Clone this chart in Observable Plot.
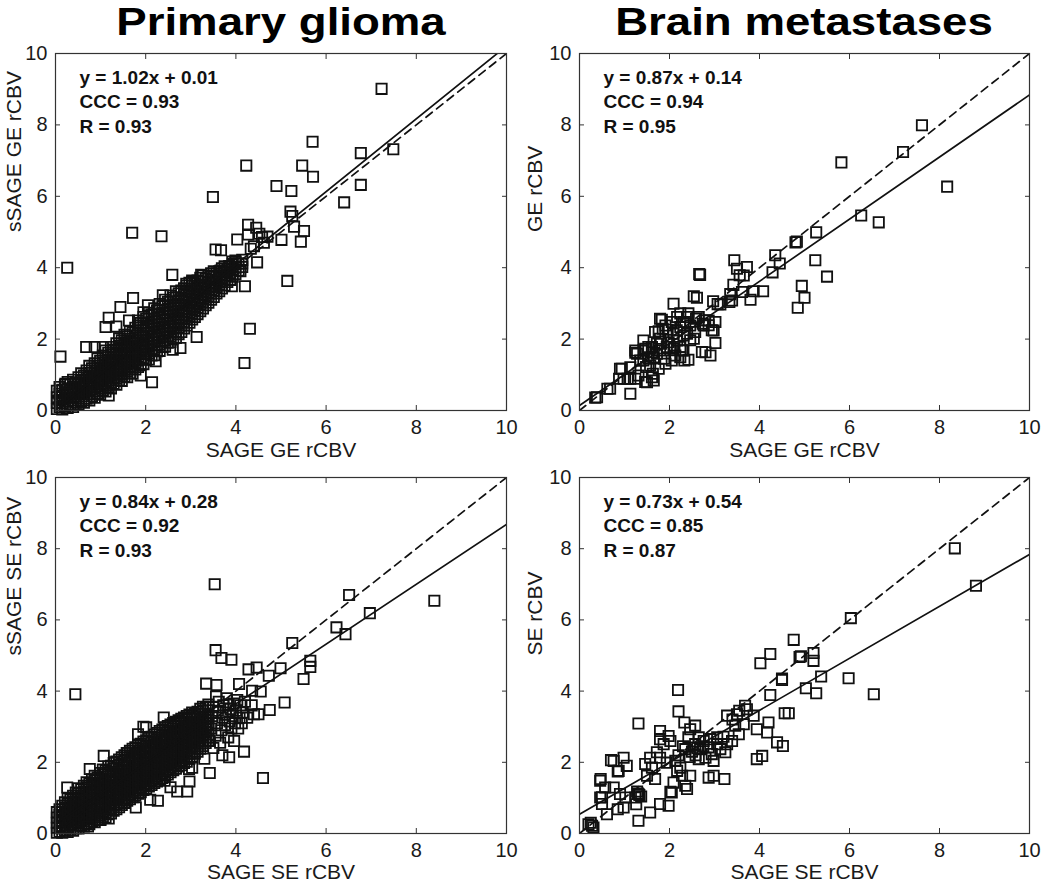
<!DOCTYPE html>
<html><head><meta charset="utf-8">
<script src="https://cdn.jsdelivr.net/npm/d3@7"></script>
<script src="https://cdn.jsdelivr.net/npm/@observablehq/plot@0.6"></script>
<style>
body{margin:0;background:#fff;}
#root{position:relative;width:1050px;height:883px;background:#fff;overflow:hidden;font-family:'Liberation Sans',Arial,Helvetica,sans-serif;}
.cell{position:absolute;}
.cell svg{display:block;max-width:none;}
.title{position:absolute;top:3px;font-weight:bold;font-size:38px;line-height:38px;color:#000;white-space:nowrap;transform:translateX(-50%) scaleX(1.2);}
</style></head><body><div id="root"></div>
<script>
// ---------- data ----------
const ticks = [0, 2, 4, 6, 8, 10];
const titles = ["Primary glioma", "Brain metastases"];
const xLabels = ["SAGE GE rCBV", "SAGE GE rCBV", "SAGE SE rCBV", "SAGE SE rCBV"];
const yLabels = ["sSAGE GE rCBV", "GE rCBV", "sSAGE SE rCBV", "SE rCBV"];
const slopes = [1.02, 0.87, 0.84, 0.73];
const intercepts = [0.01, 0.14, 0.28, 0.54];
const cccs = ["0.93", "0.94", "0.92", "0.85"];
const rs = ["0.93", "0.95", "0.93", "0.87"];

// Primary glioma, GE: dense core (x, [y...]) and scattered points
const gliomaGECore = [
[0.03,[0.04,0.21,0.37,0.55]],[0.09,[0.1,0.29,0.47,0.66]],[0.15,[0.03,0.2,0.41,0.58]],[0.21,[0.12,0.33,0.5,0.72]],
[0.27,[0.07,0.25,0.44,0.62,0.8]],[0.33,[0.16,0.36,0.55,0.74]],[0.39,[0.1,0.28,0.47,0.66,0.86]],[0.45,[0.22,0.4,0.6,0.79]],
[0.51,[0.17,0.34,0.53,0.72,0.93]],[0.57,[0.27,0.47,0.66,0.85,1.04]],[0.63,[0.22,0.4,0.6,0.79,0.98]],[0.69,[0.33,0.53,0.72,0.91,1.12]],
[0.75,[0.28,0.46,0.66,0.85,1.05,1.25]],[0.81,[0.4,0.6,0.79,0.98,1.18]],[0.87,[0.36,0.54,0.73,0.92,1.11,1.32]],[0.93,[0.48,0.67,0.86,1.05,1.25,1.46]],
[0.99,[0.44,0.62,0.81,1.0,1.19,1.39]],[1.05,[0.57,0.76,0.95,1.14,1.33,1.54]],[1.11,[0.53,0.71,0.9,1.09,1.28,1.48,1.68]],[1.17,[0.66,0.85,1.04,1.23,1.42,1.62]],
[1.23,[0.62,0.8,0.99,1.18,1.37,1.57,1.78]],[1.29,[0.75,0.94,1.13,1.32,1.51,1.71]],[1.35,[0.72,0.9,1.09,1.28,1.47,1.67,1.88]],[1.41,[0.85,1.04,1.23,1.42,1.61,1.81,2.02]],
[1.47,[0.83,1.0,1.19,1.38,1.57,1.77,1.97]],[1.53,[0.95,1.14,1.33,1.52,1.71,1.91,2.12]],[1.59,[0.93,1.1,1.29,1.48,1.67,1.87,2.08]],[1.65,[1.05,1.24,1.43,1.62,1.81,2.01,2.22]],
[1.71,[1.03,1.2,1.39,1.58,1.77,1.97,2.18]],[1.77,[1.15,1.34,1.53,1.72,1.91,2.11,2.32]],[1.83,[1.22,1.4,1.59,1.78,1.97,2.17,2.38,2.52]],[1.89,[1.3,1.48,1.67,1.86,2.05,2.25,2.45]],
[1.95,[1.3,1.47,1.66,1.85,2.04,2.24,2.44,2.62]],[2.01,[1.42,1.6,1.79,1.98,2.17,2.37,2.57]],[2.07,[1.43,1.6,1.79,1.98,2.17,2.37,2.57,2.74]],[2.13,[1.54,1.72,1.91,2.1,2.29,2.49,2.69]],
[2.19,[1.55,1.72,1.91,2.1,2.29,2.49,2.69,2.86]],[2.25,[1.66,1.84,2.03,2.22,2.41,2.61,2.8]],[2.31,[1.67,1.84,2.03,2.22,2.41,2.61,2.81,2.98]],[2.37,[1.78,1.96,2.15,2.34,2.53,2.73,2.92]],
[2.43,[1.79,1.96,2.15,2.34,2.53,2.73,2.93,3.1]],[2.49,[1.9,2.08,2.27,2.46,2.65,2.85,3.04]],[2.55,[1.91,2.08,2.27,2.46,2.65,2.85,3.05,3.22]],[2.61,[2.02,2.2,2.39,2.58,2.77,2.97,3.16]],
[2.67,[2.03,2.2,2.39,2.58,2.77,2.97,3.17,3.34]],[2.73,[2.14,2.32,2.51,2.7,2.89,3.09,3.28]],[2.79,[2.2,2.38,2.57,2.76,2.95,3.15,3.36]],[2.85,[2.3,2.48,2.67,2.86,3.05,3.25,3.42]],
[2.91,[2.38,2.56,2.75,2.94,3.13,3.33,3.5]],[2.97,[2.46,2.64,2.83,3.02,3.21,3.41,3.58]],[3.03,[2.55,2.72,2.91,3.1,3.29,3.49,3.64]],[3.09,[2.62,2.8,2.99,3.18,3.37,3.56]],
[3.15,[2.7,2.88,3.07,3.26,3.45,3.64]],[3.21,[2.78,2.96,3.15,3.34,3.53,3.72]],[3.27,[2.86,3.04,3.23,3.42,3.61,3.78]],[3.33,[2.95,3.12,3.31,3.5,3.69]],
[3.39,[3.02,3.2,3.39,3.58,3.77]],[3.45,[3.1,3.28,3.47,3.66,3.84]],[3.51,[3.18,3.36,3.55,3.74,3.9]],[3.57,[3.28,3.46,3.65,3.84]],
[3.63,[3.34,3.52,3.71,3.9]],[3.69,[3.42,3.6,3.79,3.98]],[3.75,[3.5,3.68,3.87,4.04]],[3.81,[3.6,3.78,3.97]],
[3.87,[3.66,3.85,4.03]],[3.93,[3.75,3.94,4.1]],[3.99,[3.82,4.0,4.16]],[4.06,[3.92,4.12]],[4.14,[4.02,4.22]]
];
const gliomaGEScatter = [
[7.23,9.01],[5.70,7.53],[6.77,7.21],[7.49,7.32],[4.23,6.86],[5.47,6.86],[5.71,6.55],[6.77,6.32],[4.90,6.29],[5.23,6.15],
[6.40,5.83],[3.49,5.98],[5.21,5.57],[5.25,5.45],[5.29,5.15],[5.51,5.03],[1.70,4.98],[2.35,4.88],[3.55,4.51],[3.67,4.49],
[4.03,4.79],[4.27,5.20],[4.27,4.93],[4.33,4.53],[4.45,5.12],[4.52,4.95],[4.58,4.86],[4.70,4.87],[5.01,4.78],[5.44,4.73],
[4.47,4.15],[4.20,3.48],[4.14,4.12],[3.92,4.17],[3.99,4.2],[3.66,3.92],[5.14,3.63],[4.31,2.29],[4.19,1.33],[0.26,4.0],
[0.11,1.51],[0.68,1.78],[0.87,1.78],[1.05,1.78],[1.18,2.6],[1.11,2.34],[1.44,2.9],[1.63,2.52],[1.72,3.15],[2.59,3.80],
[3.23,3.80],[2.38,3.23],[3.13,2.06],[2.77,1.75],[2.22,1.38],[2.14,0.79],[1.89,0.98],[1.18,0.42],[0.22,0.75],[3.03,3.6],
[3.91,3.48],[4.1,3.9],[3.85,4.05],[4.4,4.6],[4.62,4.7],[2.9,3.55],[1.95,2.75],[2.05,2.95],[1.35,2.35],[2.6,1.7]
];

// Brain metastases, GE
const brainGEScatter = [
[0.39,0.37],[0.35,0.36],[0.68,0.61],[0.62,0.61],[0.98,0.89],[1.13,0.89],[0.94,1.17],[1.13,1.21],[1.31,0.98],[1.50,0.79],
[1.61,0.93],[1.13,0.47],[0.90,1.17],[0.88,0.89],[1.24,1.62],[1.28,1.59],[1.24,1.68],[1.42,1.40],[1.46,1.73],[1.61,1.63],
[1.79,1.68],[1.57,1.26],[1.76,1.17],[1.91,1.31],[1.65,1.49],[2.05,1.40],[2.24,1.49],[2.42,1.42],[2.33,1.40],[1.46,0.80],
[1.65,0.84],[1.48,1.22],[1.53,1.45],[1.35,1.40],[1.63,1.03],[1.79,2.01],[1.94,1.78],[2.09,1.73],[1.72,1.87],[2.24,1.78],
[2.31,1.68],[1.42,1.96],[1.53,1.78],[1.91,2.38],[2.05,2.48],[2.31,2.48],[2.76,2.38],[1.76,2.22],[1.96,2.26],[2.09,2.15],
[2.24,2.34],[2.46,2.38],[2.57,2.20],[2.31,2.10],[2.17,1.96],[1.98,1.91],[2.54,2.01],[1.83,2.54],[2.17,2.62],[2.39,2.62],
[2.65,2.62],[2.87,2.52],[3.02,2.48],[2.98,2.24],[3.02,1.89],[2.80,1.63],[2.91,1.54],[2.72,1.64],[2.09,2.99],[2.61,3.16],
[2.54,3.20],[2.97,3.06],[3.07,2.98],[3.13,2.97],[2.68,3.80],[2.66,3.82],[2.59,2.57],[2.74,2.43],[2.79,2.53],[2.87,2.39],
[2.94,2.25],[2.35,2.48],[2.39,2.15],[2.46,1.97],[2.16,2.25],[2.11,1.78],[2.13,1.54],[2.28,1.69],[1.88,1.45],[1.81,1.87],
[1.85,2.29],[2.24,2.72],[2.42,2.72],[1.68,2.20],[1.79,2.57],[1.72,1.59],[1.61,1.78],[1.42,1.69],[1.24,0.89],[1.07,0.89],
[3.39,3.08],[3.42,3.52],[3.61,3.32],[3.87,3.34],[4.08,3.34],[3.80,3.10],[3.44,4.21],[3.50,3.97],[3.72,4.02],[3.65,3.78],
[3.35,3.26],[3.33,3.04],[3.56,3.79],[4.35,4.35],[4.45,4.12],[4.29,3.87],[4.80,4.71],[4.83,4.73],[5.26,4.99],[5.24,4.21],
[5.50,3.75],[4.94,3.49],[5.00,3.16],[4.85,2.88],[5.82,6.95],[6.26,5.46],[6.65,5.27],[7.19,7.24],[7.61,7.99],[8.17,6.27]
];

// Primary glioma, SE: dense core (x, [y...]) and scattered points
const gliomaSECore = [
[0.03,[0.02,0.16,0.3,0.45,0.6]],[0.09,[0.05,0.2,0.36,0.52,0.68]],[0.15,[0.02,0.14,0.3,0.46,0.62,0.78]],[0.21,[0.08,0.24,0.4,0.56,0.72,0.88]],
[0.27,[0.04,0.18,0.34,0.5,0.66,0.83,0.98]],[0.33,[0.1,0.27,0.44,0.6,0.77,0.95]],[0.39,[0.08,0.22,0.38,0.55,0.72,0.89,1.06]],[0.45,[0.15,0.32,0.49,0.66,0.83,1.0,1.15]],
[0.51,[0.14,0.28,0.44,0.61,0.78,0.95,1.12,1.27]],[0.57,[0.22,0.38,0.55,0.72,0.89,1.06,1.24]],[0.63,[0.2,0.34,0.5,0.67,0.84,1.01,1.18,1.34]],[0.69,[0.28,0.44,0.61,0.78,0.95,1.12,1.3,1.44]],
[0.75,[0.26,0.4,0.56,0.73,0.9,1.07,1.24,1.4]],[0.81,[0.34,0.5,0.67,0.84,1.01,1.18,1.36,1.52]],[0.87,[0.32,0.46,0.62,0.79,0.96,1.13,1.3,1.48,1.62]],[0.93,[0.4,0.56,0.73,0.9,1.07,1.24,1.42,1.58]],
[0.99,[0.38,0.52,0.68,0.85,1.02,1.19,1.36,1.54,1.7]],[1.05,[0.46,0.62,0.79,0.96,1.13,1.3,1.48,1.66,1.8]],[1.11,[0.45,0.58,0.74,0.91,1.08,1.25,1.42,1.6,1.76]],[1.17,[0.54,0.68,0.85,1.02,1.19,1.36,1.54,1.72,1.88]],
[1.23,[0.56,0.7,0.86,1.03,1.2,1.37,1.54,1.72,1.9]],[1.29,[0.64,0.78,0.95,1.12,1.29,1.46,1.64,1.82,1.98]],[1.35,[0.68,0.82,0.98,1.15,1.32,1.49,1.66,1.84,2.02]],[1.41,[0.74,0.88,1.05,1.22,1.39,1.56,1.74,1.92,2.08]],
[1.47,[0.8,0.94,1.1,1.27,1.44,1.61,1.78,1.96,2.14]],[1.53,[0.86,1.0,1.17,1.34,1.51,1.68,1.86,2.04,2.2]],[1.59,[0.92,1.06,1.22,1.39,1.56,1.73,1.9,2.08,2.26]],[1.65,[0.96,1.1,1.27,1.44,1.61,1.78,1.96,2.14,2.32]],
[1.71,[1.02,1.16,1.32,1.49,1.66,1.83,2.0,2.18,2.38]],[1.77,[1.06,1.2,1.37,1.54,1.71,1.88,2.06,2.24,2.42]],[1.83,[1.12,1.26,1.42,1.59,1.76,1.93,2.1,2.28,2.48]],[1.89,[1.16,1.3,1.47,1.64,1.81,1.98,2.16,2.34,2.52]],
[1.95,[1.22,1.36,1.52,1.69,1.86,2.03,2.2,2.38,2.58]],[2.01,[1.26,1.4,1.57,1.74,1.91,2.08,2.26,2.44,2.62]],[2.07,[1.32,1.46,1.62,1.79,1.96,2.13,2.3,2.48,2.68]],[2.13,[1.36,1.5,1.67,1.84,2.01,2.18,2.36,2.54,2.72]],
[2.19,[1.42,1.56,1.72,1.89,2.06,2.23,2.4,2.58,2.78]],[2.25,[1.46,1.6,1.77,1.94,2.11,2.28,2.46,2.64,2.82]],[2.31,[1.52,1.66,1.82,1.99,2.16,2.33,2.5,2.68,2.88]],[2.37,[1.56,1.7,1.87,2.04,2.21,2.38,2.56,2.74,2.92]],
[2.43,[1.62,1.76,1.92,2.09,2.26,2.43,2.6,2.78,2.98]],[2.49,[1.66,1.8,1.97,2.14,2.31,2.48,2.66,2.84,3.02]],[2.55,[1.72,1.86,2.02,2.19,2.36,2.53,2.7,2.88,3.06]],[2.61,[1.78,1.92,2.08,2.25,2.42,2.59,2.76,2.94,3.1]],
[2.67,[1.82,1.96,2.13,2.3,2.47,2.64,2.82,3.0,3.14]],[2.73,[1.88,2.02,2.18,2.35,2.52,2.69,2.86,3.04,3.18]],[2.79,[1.92,2.06,2.23,2.4,2.57,2.74,2.92,3.1,3.22]],[2.85,[1.98,2.12,2.28,2.45,2.62,2.79,2.96,3.14,3.26]],
[2.91,[2.02,2.16,2.33,2.5,2.67,2.84,3.02,3.2,3.3]],[2.97,[2.1,2.24,2.4,2.57,2.74,2.91,3.08,3.24,3.34]],[3.03,[2.16,2.3,2.46,2.63,2.8,2.97,3.14,3.3,3.4]],[3.09,[2.24,2.38,2.54,2.71,2.88,3.05,3.22,3.36]],
[3.15,[2.3,2.44,2.6,2.77,2.94,3.11,3.28,3.42]],[3.21,[2.38,2.52,2.68,2.85,3.02,3.19,3.36,3.5]],[3.27,[2.46,2.6,2.76,2.93,3.1,3.27,3.44,3.56]],[3.33,[2.54,2.7,2.86,3.03,3.2,3.37,3.54]],
[3.39,[2.62,2.78,2.95,3.12,3.29,3.46,3.62]]
];
const gliomaSEScatter = [
[3.42,2.6],[3.45,2.95],[3.48,3.3],[3.5,3.55],[3.55,2.75],[3.58,3.1],[3.6,3.45],[3.62,3.7],[3.65,2.55],[3.68,2.9],
[3.7,3.25],[3.72,3.6],[3.76,3.05],[3.78,3.4],[3.8,3.8],[3.83,2.7],[3.86,3.15],[3.88,3.5],[3.9,2.95],[3.93,3.3],
[3.95,3.65],[3.98,3.1],[4.0,3.45],[4.03,3.75],[4.05,2.95],[4.08,3.25],[4.1,3.6],[4.13,3.1],[4.15,3.4],[4.2,3.7],
[4.25,3.25],[3.5,2.4],[3.7,2.2],[3.56,3.85],[3.84,3.62],[4.4,3.35],[4.35,3.6],
[3.53,7.0],[6.51,6.70],[8.40,6.54],[6.97,6.19],[6.23,5.79],[6.43,5.60],[5.25,5.35],[3.55,5.15],[3.68,4.93],
[3.9,4.88],[4.28,4.61],[4.46,4.66],[4.73,4.43],[4.99,4.64],[3.34,4.21],[3.57,4.17],[4.07,4.2],[5.5,4.34],[5.65,4.85],
[5.65,4.68],[5.08,3.68],[4.75,3.47],[4.5,3.35],[4.36,4.01],[4.55,3.99],[3.96,2.6],[4.18,2.3],[3.85,2.14],[3.03,1.85],
[3.3,2.1],[3.42,1.7],[4.6,1.56],[0.44,3.91],[2.96,1.81],[2.97,1.46],[2.7,1.18],[2.92,1.18],[2.27,0.92],[1.78,0.73],
[2.42,1.48],[0.26,1.29],[1.0,0.39],[1.18,0.42],[0.72,0.2],[2.4,3.26],[2.01,2.98],[1.83,2.79],[1.07,2.18],[0.76,1.81],
[1.58,2.26],[1.3,2.0],[2.1,0.95],[2.55,1.3],[1.95,3.0]
];

// Brain metastases, SE
const brainSEScatter = [
[0.20,0.26],[0.28,0.22],[0.31,0.17],[0.25,0.30],[0.46,1.48],[0.47,1.53],[0.46,1.01],[0.50,0.83],[0.50,1.02],[0.61,0.54],
[0.57,1.29],[0.76,1.29],[0.90,1.11],[1.02,1.01],[0.98,0.73],[0.85,0.68],[0.70,2.06],[0.76,2.04],[0.98,2.13],[1.05,1.90],
[0.87,1.76],[0.85,1.74],[1.31,3.09],[1.31,1.11],[1.30,1.12],[1.33,1.08],[1.24,1.01],[1.37,1.04],[1.28,1.18],[1.31,0.36],
[1.26,0.82],[1.57,0.59],[1.79,0.83],[1.98,0.78],[1.50,1.62],[1.68,1.53],[1.46,1.95],[1.61,1.85],[1.57,2.13],[1.79,2.13],
[1.72,2.28],[1.94,1.99],[2.13,2.04],[2.24,1.85],[2.17,1.76],[2.09,1.43],[2.05,1.15],[2.35,1.34],[2.39,1.25],[2.46,1.62],
[2.28,1.62],[2.02,1.17],[1.79,2.88],[1.98,2.74],[2.02,2.60],[1.87,2.51],[1.79,2.65],[2.19,4.03],[2.20,3.43],[2.33,3.12],
[2.46,2.93],[2.57,3.03],[2.42,2.70],[2.57,2.51],[2.68,2.37],[2.87,2.42],[2.94,2.23],[3.13,2.37],[3.24,2.28],[3.28,2.51],
[3.06,2.51],[3.39,2.60],[2.65,2.70],[2.76,2.60],[2.91,2.65],[3.06,2.70],[3.20,2.72],[2.65,2.09],[2.80,2.13],[2.98,2.04],
[2.87,1.57],[2.98,1.62],[3.22,1.53],[2.20,2.20],[2.30,2.45],[2.35,2.37],[2.50,2.30],[2.62,2.40],[2.45,2.15],[2.58,2.20],
[2.75,2.45],[3.28,3.31],[3.50,3.35],[3.72,3.49],[3.87,3.31],[3.68,3.59],[3.46,3.03],[3.65,3.07],[3.54,2.79],[3.94,2.93],
[4.20,3.12],[4.17,2.84],[4.39,2.56],[4.52,2.46],[3.94,2.09],[4.06,2.18],[3.55,3.45],[3.40,3.20],[4.02,4.78],[4.24,5.04],
[4.76,5.44],[4.89,4.96],[4.92,4.98],[5.20,5.07],[5.20,4.85],[4.50,4.35],[4.50,4.31],[4.56,3.38],[4.65,3.38],[5.37,4.41],
[5.03,4.08],[5.26,3.94],[4.24,3.89],[5.98,4.36],[6.03,6.05],[6.54,3.91],[8.34,8.01],[8.81,6.96]
];

// ---------- assembly ----------
const expand = core => core.flatMap(([x, ys]) => ys.map(y => [x, y]));
const panelPoints = [
  expand(gliomaGECore).concat(gliomaGEScatter),
  brainGEScatter,
  expand(gliomaSECore).concat(gliomaSEScatter),
  brainSEScatter
];

const FONT = "'Liberation Sans', Arial, Helvetica, sans-serif";
const INK = "#111";
const AX = "#333";
const layout = [
  {left: 0,   top: 0,   width: 525, height: 463, mt: 53, mb: 53, ml: 55, mr: 19, yDx: -41, xDy: 40},
  {left: 525, top: 0,   width: 525, height: 463, mt: 53, mb: 53, ml: 54, mr: 21, yDx: -44, xDy: 40},
  {left: 0,   top: 463, width: 525, height: 420, mt: 14, mb: 50, ml: 55, mr: 19, yDx: -41, xDy: 39},
  {left: 525, top: 463, width: 525, height: 420, mt: 14, mb: 50, ml: 54, mr: 21, yDx: -44, xDy: 39}
];

const root = document.getElementById("root");

layout.forEach((L, i) => {
  const a = slopes[i], b = intercepts[i];
  const stats = `y = ${a.toFixed(2)}x + ${b.toFixed(2)}\nCCC = ${cccs[i]}\nR = ${rs[i]}`;
  const chart = Plot.plot({
    width: L.width, height: L.height,
    marginTop: L.mt, marginBottom: L.mb, marginLeft: L.ml, marginRight: L.mr,
    style: {fontFamily: FONT, fontSize: "20px", color: "#1a1a1a", background: "transparent", overflow: "visible"},
    x: {domain: [0, 10], ticks},
    y: {domain: [0, 10], ticks},
    marks: [
      Plot.dot(panelPoints[i], {symbol: "square", r: 5.8, fill: "none", stroke: INK, strokeWidth: 1.8}),
      Plot.line([[0, 0], [10, 10]], {stroke: INK, strokeWidth: 1.7, strokeDasharray: "8,5.5", clip: true}),
      Plot.line([[0, b], [10, 10 * a + b]], {stroke: INK, strokeWidth: 1.7, clip: true}),
      Plot.frame({stroke: AX, strokeWidth: 1.2}),
      Plot.axisX({anchor: "bottom", ticks, tickSize: -5, tickPadding: 14, label: null, stroke: AX, fontSize: 20}),
      Plot.axisX({anchor: "top", ticks, tickSize: -5, tickFormat: () => "", label: null, stroke: AX}),
      Plot.axisY({anchor: "left", ticks, tickSize: -5, tickPadding: 13, label: null, stroke: AX, fontSize: 20}),
      Plot.axisY({anchor: "right", ticks, tickSize: -5, tickFormat: () => "", label: null, stroke: AX}),
      Plot.text([xLabels[i]], {frameAnchor: "bottom", dy: L.xDy, lineAnchor: "middle", fontSize: 21, fill: "#1a1a1a"}),
      Plot.text([yLabels[i]], {frameAnchor: "left", rotate: -90, dx: L.yDx, lineAnchor: "middle", fontSize: 21, fill: "#1a1a1a"}),
      Plot.text([stats], {frameAnchor: "top-left", dx: 24, dy: 13, textAnchor: "start", lineAnchor: "top", lineHeight: 1.29, fontSize: 19, fontWeight: "bold", fill: "#111"})
    ]
  });
  const cell = document.createElement("div");
  cell.className = "cell";
  cell.style.left = L.left + "px";
  cell.style.top = L.top + "px";
  cell.style.width = L.width + "px";
  cell.style.height = L.height + "px";
  cell.appendChild(chart);
  root.appendChild(cell);
});

// column titles
const titleCenters = [(layout[0].left + layout[0].ml + layout[0].left + layout[0].width - layout[0].mr) / 2,
                      (layout[1].left + layout[1].ml + layout[1].left + layout[1].width - layout[1].mr) / 2];
titles.forEach((t, i) => {
  const d = document.createElement("div");
  d.className = "title";
  d.style.left = titleCenters[i] + "px";
  d.textContent = t;
  root.appendChild(d);
});
</script></body></html>
